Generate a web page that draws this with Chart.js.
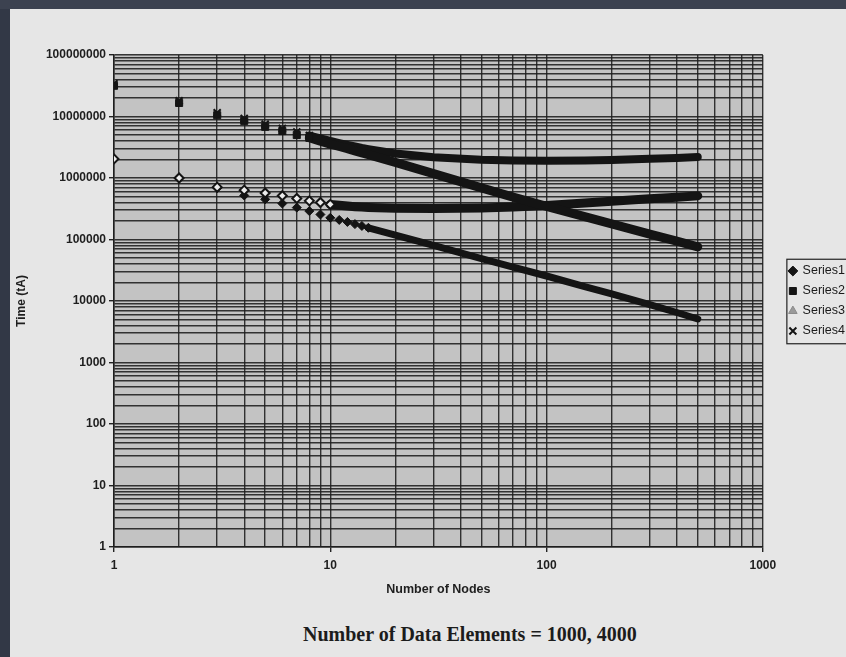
<!DOCTYPE html>
<html>
<head>
<meta charset="utf-8">
<script src="https://cdn.jsdelivr.net/npm/chart.js@4.4.1/dist/chart.umd.min.js"></script>
<style>
  html, body { margin: 0; padding: 0; width: 846px; height: 657px; overflow: hidden; background: #e6e6e6; }
  #wrap { position: absolute; left: 0; top: 0; width: 855px; height: 610px; }
  #edgeLeft { position: absolute; left: 0; top: 0; width: 10px; height: 657px; background: #323846; }
  #edgeTop { position: absolute; left: 0; top: 0; width: 846px; height: 9px; background: #3c4250; }
  #caption { position: absolute; left: 303px; top: 623px; font: bold 20px "Liberation Serif", "DejaVu Serif", serif; color: #1c1c1c; white-space: nowrap; }
</style>
</head>
<body>
<div id="wrap"><canvas id="timeChart"></canvas></div>
<div id="edgeLeft"></div>
<div id="edgeTop"></div>
<div id="caption">Number of Data Elements = 1000, 4000</div>
<script>
// Number of nodes (x) and times (y)
const nodes = [1, 2, 3, 4, 5, 6, 7, 8, 9, 10, 11, 12, 13, 14, 15, 20, 30, 50, 70, 100, 150, 200, 300, 400, 500];

const series1 = [2000000, 980000, 690000, 520000, 450000, 385000, 330000, 290000, 255000, 225000,
    208000, 193000, 178000, 166000, 155000, 118000, 80000, 49000, 35500, 25500, 17200, 13000, 8700, 6500, 5100];
const series2 = [31600000, 16600000, 10500000, 8500000, 6800000, 5800000, 5000000, 4500000, 3950000, 3550000,
    3250000, 3000000, 2750000, 2550000, 2400000, 1800000, 1180000, 690000, 490000, 345000, 235000, 180000, 122000, 94000, 76000];
const series3 = [2040000, 1000000, 710000, 635000, 570000, 515000, 465000, 425000, 400000, 372000,
    360000, 350000, 342000, 336000, 332000, 322000, 318000, 325000, 338000, 358000, 392000, 420000, 458000, 488000, 512000];
const series4 = [34000000, 18000000, 11500000, 9300000, 7500000, 6400000, 5600000, 4900000, 4400000, 4000000,
    3700000, 3450000, 3250000, 3080000, 2950000, 2500000, 2170000, 1980000, 1930000, 1900000, 1920000, 1960000, 2050000, 2120000, 2200000];

const seriesNames = ['Series1', 'Series2', 'Series3', 'Series4'];

// log axis tick values (1..9 per decade)
const xDecades = [1, 10, 100];
const yDecades = [1, 10, 100, 1000, 10000, 100000, 1000000, 10000000];
function decadeTicks(decades, last) {
    const out = [];
    decades.forEach(d => { for (let m = 1; m <= 9; m++) out.push({ value: m * d }); });
    out.push({ value: last });
    return out;
}
function isPow10(v) {
    const l = Math.log10(v);
    return Math.abs(l - Math.round(l)) < 1e-9;
}

const ink = '#141414';
const gridInk = 'rgba(28,28,28,0.88)';

function toPoints(vals) {
    return nodes.map((n, i) => ({ x: n, y: vals[i] }));
}
// markers only where they are still apart, a thick band after that
function bandFrom(n0) {
    return { borderColor: ctx => ctx.p0.parsed.x >= n0 ? ink : 'rgba(0,0,0,0)' };
}
function markersUpTo(n0, r) {
    return ctx => nodes[ctx.dataIndex] <= n0 ? r : 0;
}

// plot background fill
const plotBackground = {
    id: 'plotBackground',
    beforeDraw(chart) {
        const a = chart.chartArea;
        const ctx = chart.ctx;
        ctx.save();
        ctx.fillStyle = '#c3c3c3';
        ctx.fillRect(a.left, a.top, a.right - a.left, a.bottom - a.top);
        ctx.restore();
    }
};

// border round the legend like Excel's
const legendFrame = {
    id: 'legendFrame',
    afterDraw(chart) {
        const lg = chart.legend;
        if (!lg || !lg.legendHitBoxes || !lg.legendHitBoxes.length) return;
        const boxes = lg.legendHitBoxes;
        const top = boxes[0].top - 6;
        const bottom = boxes[boxes.length - 1].top + boxes[boxes.length - 1].height + 6;
        const ctx = chart.ctx;
        ctx.save();
        ctx.strokeStyle = '#222';
        ctx.lineWidth = 1.2;
        ctx.strokeRect(boxes[0].left - 2.5, top + 0.5, 90, bottom - top);
        ctx.restore();
    }
};

const tickFont = { family: '"Liberation Sans", Arial, sans-serif', size: 12, weight: 'bold' };

new Chart(document.getElementById('timeChart').getContext('2d'), {
    type: 'line',
    data: {
        datasets: [
            {
                label: seriesNames[0], data: toPoints(series1), order: 1,
                borderWidth: 7, borderCapStyle: 'round', segment: bandFrom(15),
                pointStyle: 'rectRot', pointRadius: markersUpTo(15, 4.5),
                pointBackgroundColor: ink, pointBorderColor: ink, pointBorderWidth: 1
            },
            {
                label: seriesNames[1], data: toPoints(series2),
                borderWidth: 9, borderCapStyle: 'round', segment: bandFrom(8),
                pointStyle: 'rect', pointRadius: markersUpTo(8, 5),
                pointBackgroundColor: ink, pointBorderColor: ink, pointBorderWidth: 1
            },
            {
                label: seriesNames[2], data: toPoints(series3),
                borderWidth: 9, borderCapStyle: 'round', segment: bandFrom(10),
                pointStyle: 'rectRot', pointRadius: markersUpTo(10, 4.5),
                pointBackgroundColor: '#ececec', pointBorderColor: ink, pointBorderWidth: 2
            },
            {
                label: seriesNames[3], data: toPoints(series4),
                borderWidth: 8, borderCapStyle: 'round', segment: bandFrom(8),
                pointStyle: 'crossRot', pointRadius: markersUpTo(8, 5),
                pointBackgroundColor: ink, pointBorderColor: ink, pointBorderWidth: 2
            }
        ]
    },
    options: {
        responsive: true,
        maintainAspectRatio: false,
        animation: false,
        layout: { padding: { left: 0, top: 55, right: 0, bottom: 13 } },
        plugins: {
            tooltip: { enabled: false },
            legend: {
                position: 'right',
                fullSize: false,
                labels: {
                    usePointStyle: true,
                    boxWidth: 7,
                    boxHeight: 7,
                    padding: 7.5,
                    color: '#1a1a1a',
                    font: { family: '"Liberation Sans", Arial, sans-serif', size: 12.5 },
                    sort: (a, b) => a.datasetIndex - b.datasetIndex,
                    generateLabels(chart) {
                        const items = Chart.defaults.plugins.legend.labels.generateLabels(chart);
                        items.forEach(it => {
                            if (it.datasetIndex === 2) {
                                it.pointStyle = 'triangle';
                                it.fillStyle = '#9a9a9a';
                                it.strokeStyle = '#8a8a8a';
                                it.lineWidth = 1;
                            }
                        });
                        return items;
                    }
                }
            }
        },
        scales: {
            x: {
                type: 'logarithmic',
                min: 1, max: 1000,
                afterBuildTicks: s => { s.ticks = decadeTicks(xDecades, 1000); },
                afterFit: s => { s.height = 50; },
                ticks: {
                    autoSkip: false, maxRotation: 0, padding: 6,
                    color: '#1e1e1e', font: tickFont,
                    callback: v => isPow10(v) ? String(v) : ''
                },
                grid: {
                    color: gridInk, lineWidth: 1.4, tickLength: 5,
                    tickColor: ctx => (ctx.tick && isPow10(ctx.tick.value)) ? '#222' : 'rgba(0,0,0,0)'
                },
                border: { display: true, color: '#1e1e1e', width: 1.5 },
                title: {
                    display: true, text: 'Number of Nodes', color: '#1e1e1e',
                    padding: { top: 0, bottom: 0 },
                    font: { family: '"Liberation Sans", Arial, sans-serif', size: 12.5, weight: 'bold' }
                }
            },
            y: {
                type: 'logarithmic',
                min: 1, max: 100000000,
                afterBuildTicks: s => { s.ticks = decadeTicks(yDecades, 100000000); },
                afterFit: s => { s.width = 114; },
                ticks: {
                    autoSkip: false, padding: 3,
                    color: '#1e1e1e', font: tickFont,
                    callback: v => isPow10(v) ? String(v) : ''
                },
                grid: {
                    color: gridInk, lineWidth: 1.4, tickLength: 5,
                    tickColor: ctx => (ctx.tick && isPow10(ctx.tick.value)) ? '#222' : 'rgba(0,0,0,0)'
                },
                border: { display: true, color: '#1e1e1e', width: 1.5 },
                title: {
                    display: true, text: 'Time (tA)', color: '#1e1e1e',
                    padding: { top: 14, bottom: 0 },
                    font: { family: '"Liberation Sans", Arial, sans-serif', size: 12, weight: 'bold' }
                }
            },
            // empty spacer between the plot and the legend
            gap: {
                type: 'linear', position: 'right', display: true,
                afterFit: s => { s.width = 19; },
                ticks: { display: false },
                grid: { display: false },
                border: { display: false }
            }
        }
    },
    plugins: [plotBackground, legendFrame]
});
</script>
</body>
</html>
